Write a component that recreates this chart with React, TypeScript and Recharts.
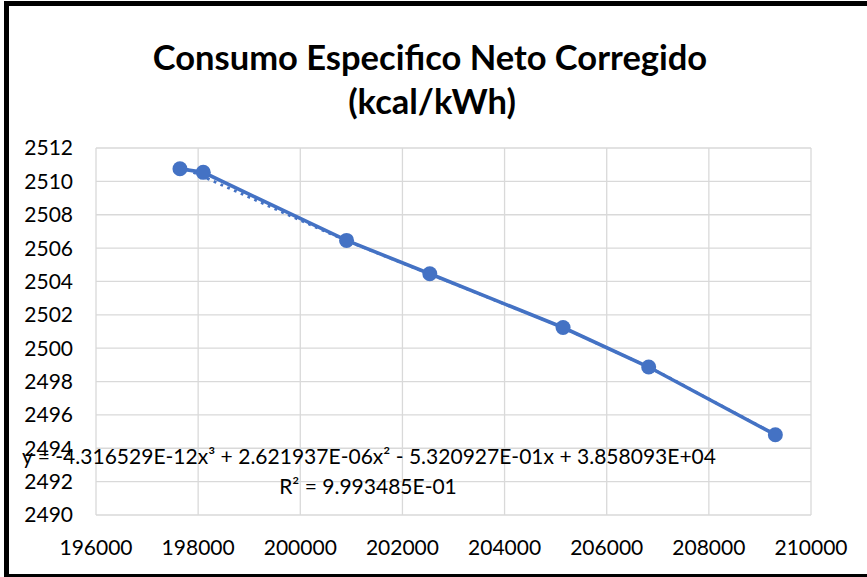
import React from "react";
import { ComposedChart, Line, XAxis, YAxis, CartesianGrid } from "recharts";

// measured points (potencia neta vs consumo especifico)
const X_VALUES = [197644, 198100, 200906, 202536, 205145, 206822, 209302];
const Y_VALUES = [2510.76, 2510.54, 2506.46, 2504.46, 2501.24, 2498.87, 2494.81];

// polynomial trendline
const TREND_X = [197644, 198231, 199000, 199933, 200906, 202000, 202536, 204000, 205145, 206000, 206822, 208000, 209302];
const TREND_Y = [2510.9, 2510.1, 2509.05, 2507.76, 2506.45, 2505.1, 2504.44, 2502.64, 2501.22, 2500.02, 2498.86, 2496.95, 2494.82];

const X_TICKS = [196000, 198000, 200000, 202000, 204000, 206000, 208000, 210000];
const Y_TICKS = [2490, 2492, 2494, 2496, 2498, 2500, 2502, 2504, 2506, 2508, 2510, 2512];

const TITLE = ["Consumo Especifico Neto Corregido", "(kcal/kWh)"];
const EQUATION = "y = -4.316529E-12x³ + 2.621937E-06x² - 5.320927E-01x + 3.858093E+04";
const R_SQUARED = "R² = 9.993485E-01";

const BLUE = "#4472C4";
const FONT = "Lato, 'Liberation Sans', sans-serif";

const points = X_VALUES.map((x, i) => ({ x, y: Y_VALUES[i] }));
const trend = TREND_X.map((x, i) => ({ x, y: TREND_Y[i] }));

export default function App() {
  return (
    <div style={{ position: "absolute", left: 0, top: 0, width: 867, height: 577, background: "#fff" }}>
      <div
        style={{
          position: "absolute",
          left: 4,
          top: 1,
          width: 863,
          height: 576,
          boxSizing: "border-box",
          borderLeft: "5px solid #000",
          borderTop: "5px solid #000",
          borderBottom: "3px solid #000",
        }}
      />
      <ComposedChart
        width={867}
        height={577}
        margin={{ top: 148, right: 56, bottom: 0, left: 0 }}
        style={{ position: "absolute", left: 0, top: 0 }}
      >
        <CartesianGrid stroke="#d9d9d9" strokeWidth={1.3} />
        <XAxis
          type="number"
          dataKey="x"
          domain={[196000, 210000]}
          ticks={X_TICKS}
          allowDataOverflow
          height={62}
          axisLine={false}
          tickLine={false}
          tickSize={0}
          tickMargin={25}
          tick={{ fill: "#000", fontSize: 21, fontFamily: FONT }}
        />
        <YAxis
          type="number"
          domain={[2490, 2512]}
          ticks={Y_TICKS}
          allowDataOverflow
          width={96}
          axisLine={false}
          tickLine={false}
          tickSize={0}
          tickMargin={23}
          tick={{ fill: "#000", fontSize: 21, fontFamily: FONT }}
        />
        <Line
          data={trend}
          dataKey="y"
          type="monotone"
          stroke={BLUE}
          strokeWidth={2.8}
          strokeDasharray="2.8 4.6"
          dot={false}
          isAnimationActive={false}
        />
        <Line
          data={points}
          dataKey="y"
          type="linear"
          stroke={BLUE}
          strokeWidth={3.6}
          dot={{ r: 7.5, fill: BLUE, stroke: BLUE, strokeWidth: 0 }}
          activeDot={false}
          isAnimationActive={false}
        />
      </ComposedChart>
      <svg width={867} height={577} style={{ position: "absolute", left: 0, top: 0, pointerEvents: "none" }}>
        <text x={430} y={70} textAnchor="middle" fontFamily={FONT} fontWeight="bold" fontSize={34.5} fill="#000">
          {TITLE[0]}
        </text>
        <text x={432} y={114} textAnchor="middle" fontFamily={FONT} fontWeight="bold" fontSize={34.5} fill="#000">
          {TITLE[1]}
        </text>
        <text x={22} y={464} textLength={694} fontFamily={FONT} fontSize={21} fill="#000">
          {EQUATION}
        </text>
        <text x={368} y={494} textAnchor="middle" fontFamily={FONT} fontSize={21} fill="#000">
          {R_SQUARED}
        </text>
      </svg>
    </div>
  );
}
